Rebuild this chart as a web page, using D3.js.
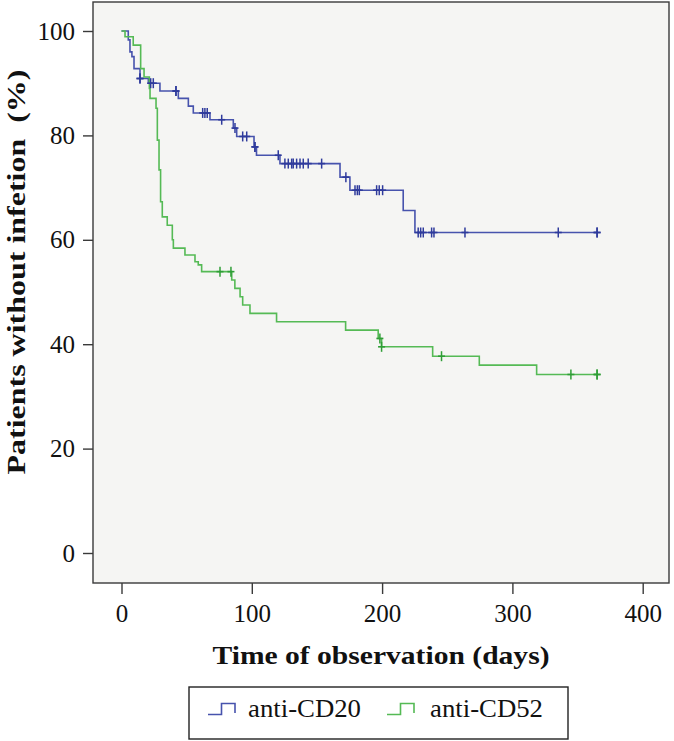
<!DOCTYPE html>
<html>
<head>
<meta charset="utf-8">
<script src="https://cdn.jsdelivr.net/npm/d3@7"></script>
<style>
  html, body { margin: 0; padding: 0; background: #ffffff; }
  svg { display: block; }
  svg text { font-family: "Liberation Serif", "DejaVu Serif", serif !important; fill: #111; }
</style>
</head>
<body>
<svg id="chart" width="674" height="741"></svg>
<script>
// ---------- data ----------
const seriesNames = ["anti-CD20", "anti-CD52"];
const xTicks = [0, 100, 200, 300, 400];
const yTicks = [0, 20, 40, 60, 80, 100];
const endDay = 365;

// anti-CD20: step changes [day, % without infection]
const cd20Steps = [
  [0, 100], [5.2, 98.3], [6.5, 96.0], [8, 95.1], [9.6, 92.8], [14.2, 90.9],
  [20.6, 90.0], [29.5, 88.5], [43.6, 87.1], [51.3, 85.6], [55.1, 84.3],
  [67.9, 83.0], [85.8, 81.4], [88.4, 79.8], [101.7, 77.8], [103.6, 76.2],
  [121.6, 74.6], [167.7, 72.0], [175.3, 69.5], [216.2, 65.6], [225.2, 61.4]
];
const cd20Censored = [
  14.2, 14.2, 22.4, 24.4, 41.8, 41.8, 62.3, 64, 65.8, 76.9, 87.1, 93, 96.1,
  102.4, 102.4, 120.3, 125.4, 128, 130.6, 131.8, 134.4, 137, 139.5, 143.3,
  153.6, 172.2, 179.2, 181, 182.5, 195.8, 197.8, 200.4, 227.7, 229.6, 231.6,
  238, 239.8, 263.6, 335.2, 365, 365
];

// anti-CD52: step changes [day, % without infection]
const cd52Steps = [
  [0, 100], [2.7, 98.9], [9, 97.3], [14.7, 92.8], [17.3, 91.2], [21.4, 89.0],
  [21.9, 87.1], [26.5, 85.2], [27.5, 79.1], [28.8, 73.4], [30, 67.3],
  [31.3, 64.4], [35.1, 62.8], [39, 60.0], [39.8, 58.4], [48.7, 57.1],
  [56.4, 55.8], [58.9, 55.2], [61.5, 53.9], [84.6, 52.3], [87, 50.7],
  [91, 49.1], [93, 47.5], [98.6, 45.9], [119, 44.3], [172, 42.7],
  [197, 41.1], [199.6, 39.5], [238.8, 37.7], [274.6, 36.0], [318.6, 34.2]
];
const cd52Censored = [75.6, 84, 198.3, 199.6, 245.6, 344.9, 365, 365];

// ---------- layout ----------
const FONT = "'Liberation Serif', 'DejaVu Serif', serif";
const svg = d3.select("#chart");
const frame = { left: 93, top: 2, right: 669, bottom: 583 };
const x = d3.scaleLinear().domain([0, 400]).range([121.5, 642.7]);
const y = d3.scaleLinear().domain([0, 100]).range([553, 31]);

const colors = { line: ["#4753ad", "#55ba55"], mark: ["#2f3b9c", "#2f9e36"] };

// plot background + frame
svg.append("rect")
  .attr("x", frame.left).attr("y", frame.top)
  .attr("width", frame.right - frame.left).attr("height", frame.bottom - frame.top)
  .attr("fill", "#f5f5f3").attr("stroke", "#3a3a3a").attr("stroke-width", 1.4);

// axes
const xAxis = d3.axisBottom(x).tickValues(xTicks).tickSize(11).tickPadding(10).tickSizeOuter(0);
const gx = svg.append("g").attr("transform", `translate(0,${frame.bottom})`).call(xAxis)
  .attr("font-family", null);
gx.select(".domain").remove();
gx.selectAll("line").attr("stroke", "#3a3a3a").attr("stroke-width", 1.4);
gx.selectAll("text").attr("font-size", 25).style("font-family", FONT).attr("fill", "#111");

const yAxis = d3.axisLeft(y).tickValues(yTicks).tickSize(10).tickPadding(8).tickSizeOuter(0);
const gy = svg.append("g").attr("transform", `translate(${frame.left},0)`).call(yAxis)
  .attr("font-family", null);
gy.select(".domain").remove();
gy.selectAll("line").attr("stroke", "#3a3a3a").attr("stroke-width", 1.4);
gy.selectAll("text").attr("font-size", 25).style("font-family", FONT).attr("fill", "#111");

// axis titles
svg.append("text")
  .attr("x", 381).attr("y", 664)
  .attr("text-anchor", "middle")
  .attr("font-size", 25).attr("font-weight", "bold").style("font-family", FONT)
  .attr("textLength", 337).attr("lengthAdjust", "spacingAndGlyphs")
  .text("Time of observation (days)");

svg.append("text")
  .attr("transform", "translate(25,272) rotate(-90)")
  .attr("text-anchor", "middle")
  .attr("font-size", 26).attr("font-weight", "bold").style("font-family", FONT)
  .attr("textLength", 405).attr("lengthAdjust", "spacingAndGlyphs")
  .style("white-space", "pre")
  .text("Patients without infetion  (%)");

// step curves
function valueAt(steps, t) {
  let v = steps[0][1];
  for (const s of steps) { if (s[0] <= t) v = s[1]; }
  return v;
}
const line = d3.line().x(d => x(d[0])).y(d => y(d[1])).curve(d3.curveStepAfter);

const all = [
  { steps: cd20Steps, cens: cd20Censored },
  { steps: cd52Steps, cens: cd52Censored }
];

all.forEach((s, i) => {
  const pts = s.steps.concat([[endDay, s.steps[s.steps.length - 1][1]]]);
  svg.append("path")
    .attr("d", line(pts))
    .attr("fill", "none")
    .attr("stroke", colors.line[i])
    .attr("stroke-width", 1.6);
});

all.forEach((s, i) => {
  const g = svg.append("g");
  s.cens.forEach(t => {
    const cx = x(t), cy = y(valueAt(s.steps, t));
    g.append("line").attr("x1", cx).attr("x2", cx).attr("y1", cy - 5).attr("y2", cy + 5)
      .attr("stroke", colors.mark[i]).attr("stroke-width", 1.5);
    g.append("line").attr("x1", cx - 3.5).attr("x2", cx + 3.5).attr("y1", cy).attr("y2", cy)
      .attr("stroke", colors.mark[i]).attr("stroke-width", 1.6);
  });
});

// legend
const leg = svg.append("g");
leg.append("rect").attr("x", 189).attr("y", 687).attr("width", 379).attr("height", 52)
  .attr("fill", "#ffffff").attr("stroke", "#222").attr("stroke-width", 1.4);
const legItems = [
  { name: seriesNames[0], sx: 208, tx: 248 },
  { name: seriesNames[1], sx: 387, tx: 430 }
];
legItems.forEach((d, i) => {
  const p = d3.path();
  p.moveTo(d.sx, 714.5); p.lineTo(d.sx + 13.5, 714.5); p.lineTo(d.sx + 13.5, 703.5);
  p.lineTo(d.sx + 27, 703.5); p.lineTo(d.sx + 27, 713);
  leg.append("path").attr("d", p.toString()).attr("fill", "none")
    .attr("stroke", colors.line[i]).attr("stroke-width", 1.6);
  leg.append("text").attr("x", d.tx).attr("y", 716.5)
    .attr("font-size", 25).style("font-family", FONT)
    .attr("textLength", 113).attr("lengthAdjust", "spacingAndGlyphs")
    .text(d.name);
});
</script>
</body>
</html>
